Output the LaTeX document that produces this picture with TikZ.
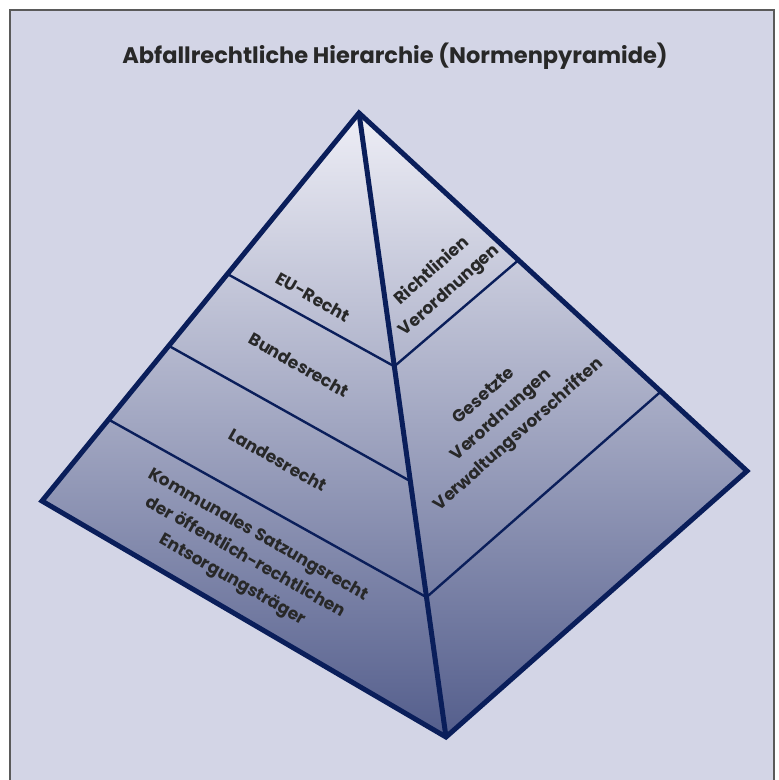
\documentclass[tikz,border=0pt]{standalone}
\usepackage{fontspec}
\setmainfont{Poppins}
\usetikzlibrary{calc}
\definecolor{bg}{RGB}{211,213,230}
\definecolor{navy}{RGB}{10,30,90}
\definecolor{toptone}{RGB}{238,238,246}
\definecolor{bottone}{RGB}{84,94,140}
\definecolor{txt}{RGB}{40,40,40}
\definecolor{framegray}{RGB}{90,90,90}
\begin{document}
\begin{tikzpicture}[x=1pt,y=-1pt,
  outline/.style={draw=navy,line width=5pt,line join=miter},
  divider/.style={draw=navy,line width=2.4pt},
  lbl/.style={text=txt,font=\fontsize{17}{26}\selectfont\bfseries,align=center,inner sep=0pt},
  titlestyle/.style={text=txt,font=\fontsize{22.5}{28}\selectfont\bfseries,inner sep=0pt}]
\useasboundingbox (0,0) rectangle (779,780);
\fill[white] (0,0) rectangle (779,780);
\clip (0,0) rectangle (779,780);
\draw[fill=bg,draw=framegray,line width=1.5pt] (10,10) rectangle (774,800);
\node[titlestyle] (title) at (395,56) {Abfallrechtliche Hierarchie (Normenpyramide)};
% pyramid corners
\coordinate (A) at (359,113);
\coordinate (L) at (42,501);
\coordinate (B) at (446,737);
\coordinate (R) at (747,471);
\shade[top color=toptone,bottom color=bottone] (A)--(L)--(B)--(R)--cycle;
% division points
\coordinate (l1) at ($(A)!0.415!(L)$);
\coordinate (l2) at ($(A)!0.600!(L)$);
\coordinate (l3) at ($(A)!0.790!(L)$);
\coordinate (m1) at ($(A)!0.406!(B)$);
\coordinate (m2) at ($(A)!0.590!(B)$);
\coordinate (m3) at ($(A)!0.776!(B)$);
\coordinate (r1) at ($(A)!0.411!(R)$);
\coordinate (r2) at ($(A)!0.778!(R)$);
\draw[divider] (l1) -- (m1) -- (r1);
\draw[divider] (l2) -- (m2);
\draw[divider] (l3) -- (m3) -- (r2);
\draw[outline] (A) -- (B);
\draw[outline] (A) -- (L) -- (B) -- (R) -- cycle;
% labels
\node[lbl,rotate=-29.7] (eu) at (313,297) {EU-Recht};
\node[lbl,rotate=-29.7] (bund) at (299,365) {Bundesrecht};
\node[lbl,rotate=-29.7] (land) at (278,460) {Landesrecht};
\node[lbl,rotate=-29.7] (komm) at (245,558) {Kommunales Satzungsrecht\\der öffentlich-rechtlichen\\Entsorgungsträger};
\node[lbl,rotate=41.7] (richt) at (441,281) {Richtlinien\\Verordnungen};
\node[lbl,rotate=41.7] (ges) at (502,416) {Gesetzte\\Verordnungen\\Verwaltungsvorschriften};
\end{tikzpicture}
\end{document}
